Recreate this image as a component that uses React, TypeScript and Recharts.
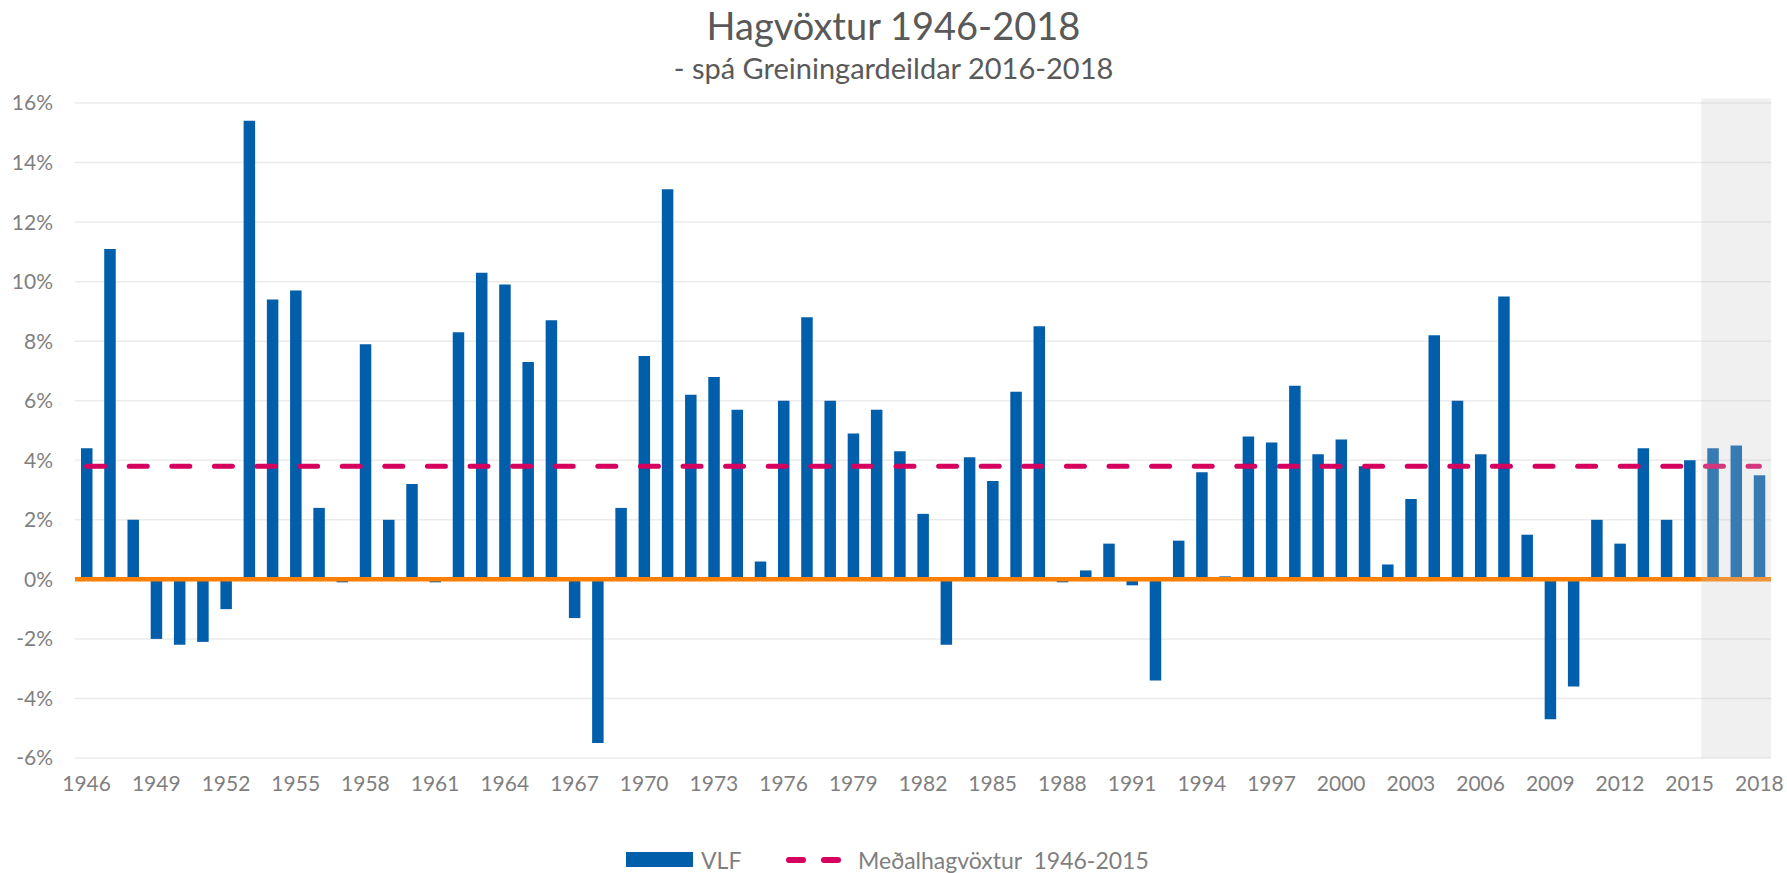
import React from 'react';
import {
  ComposedChart, Bar, Line, XAxis, YAxis, CartesianGrid, ReferenceLine, ReferenceArea,
} from 'recharts';

const YEARS = [
  '1946', '1947', '1948', '1949', '1950', '1951', '1952', '1953', '1954', '1955',
  '1956', '1957', '1958', '1959', '1960', '1961', '1962', '1963', '1964', '1965',
  '1966', '1967', '1968', '1969', '1970', '1971', '1972', '1973', '1974', '1975',
  '1976', '1977', '1978', '1979', '1980', '1981', '1982', '1983', '1984', '1985',
  '1986', '1987', '1988', '1989', '1990', '1991', '1992', '1993', '1994', '1995',
  '1996', '1997', '1998', '1999', '2000', '2001', '2002', '2003', '2004', '2005',
  '2006', '2007', '2008', '2009', '2010', '2011', '2012', '2013', '2014', '2015',
  '2016', '2017', '2018',
];

// VLF growth, % per year (2016-2018 = forecast)
const VLF = [
  4.4, 11.1, 2.0, -2.0, -2.2, -2.1, -1.0, 15.4, 9.4, 9.7,
  2.4, -0.1, 7.9, 2.0, 3.2, -0.1, 8.3, 10.3, 9.9, 7.3,
  8.7, -1.3, -5.5, 2.4, 7.5, 13.1, 6.2, 6.8, 5.7, 0.6,
  6.0, 8.8, 6.0, 4.9, 5.7, 4.3, 2.2, -2.2, 4.1, 3.3,
  6.3, 8.5, -0.1, 0.3, 1.2, -0.2, -3.4, 1.3, 3.6, 0.1,
  4.8, 4.6, 6.5, 4.2, 4.7, 3.8, 0.5, 2.7, 8.2, 6.0,
  4.2, 9.5, 1.5, -4.7, -3.6, 2.0, 1.2, 4.4, 2.0, 4.0,
  4.4, 4.5, 3.5,
];

const MEAN_GROWTH = 3.8;
const Y_TICKS = [-6, -4, -2, 0, 2, 4, 6, 8, 10, 12, 14, 16];
const FORECAST_START = '2016';
const FORECAST_END = '2018';

const BLUE = '#005eab';
const PINK = '#d6005e';
const ORANGE = '#ff7f00';
const FONT = "Lato, 'Open Sans', sans-serif";

const data = YEARS.map((year, i) => ({ year, vlf: VLF[i], mean: MEAN_GROWTH }));

export default function App() {
  return (
    <div style={{ position: 'absolute', left: 0, top: 0, width: 1787, height: 873, background: '#fff', fontFamily: FONT }}>
      <div style={{ position: 'absolute', left: 0, width: 1787, top: 2, textAlign: 'center', fontSize: 38, color: '#595959' }}>
        Hagvöxtur 1946-2018
      </div>
      <div style={{ position: 'absolute', left: 0, width: 1787, top: 50, textAlign: 'center', fontSize: 29, color: '#595959' }}>
        - spá Greiningardeildar 2016-2018
      </div>

      <ComposedChart
        width={1787}
        height={873}
        data={data}
        margin={{ top: 103, right: 16, bottom: 85, left: 0 }}
        barCategoryGap="50%"
      >
        <CartesianGrid vertical={false} stroke="#ebebeb" strokeWidth={1.5} />
        <XAxis
          dataKey="year"
          interval={2}
          axisLine={false}
          tickLine={false}
          tickMargin={12}
          height={30}
          tick={{ fill: '#7f7f7f', fontSize: 21, fontFamily: FONT }}
        />
        <YAxis
          width={75}
          domain={[-6, 16]}
          ticks={Y_TICKS}
          interval={0}
          axisLine={false}
          tickLine={false}
          tickMargin={16}
          tickFormatter={(v: number) => `${v}%`}
          tick={{ fill: '#7f7f7f', fontSize: 21, fontFamily: FONT }}
        />
        <Bar dataKey="vlf" fill={BLUE} barSize={11.5} isAnimationActive={false} />
        <ReferenceLine y={0} stroke={ORANGE} strokeWidth={4.5} />
        <Line
          dataKey="mean"
          stroke={PINK}
          strokeWidth={5}
          strokeDasharray="18 24.6"
          strokeLinecap="round"
          dot={false}
          activeDot={false}
          isAnimationActive={false}
        />
        <ReferenceArea
          x1={FORECAST_START}
          x2={FORECAST_END}
          y1={-6}
          y2={16.15}
          ifOverflow="visible"
          fill="#c8c8c8"
          fillOpacity={0.28}
          stroke="none"
          zIndex={2500}
        />
      </ComposedChart>

      {/* legend */}
      <div style={{ position: 'absolute', left: 626, top: 852, width: 67, height: 15, background: BLUE }} />
      <div style={{ position: 'absolute', left: 701, top: 845, fontSize: 23, lineHeight: '30px', color: '#7f7f7f' }}>VLF</div>
      <svg style={{ position: 'absolute', left: 784, top: 850 }} width={64} height={20}>
        <line x1={5} y1={10} x2={59} y2={10} stroke={PINK} strokeWidth={6} strokeLinecap="round" strokeDasharray="14 21" />
      </svg>
      <div style={{ position: 'absolute', left: 858, top: 845, fontSize: 23, lineHeight: '30px', color: '#7f7f7f', whiteSpace: 'pre' }}>
        Meðalhagvöxtur  1946-2015
      </div>
    </div>
  );
}
